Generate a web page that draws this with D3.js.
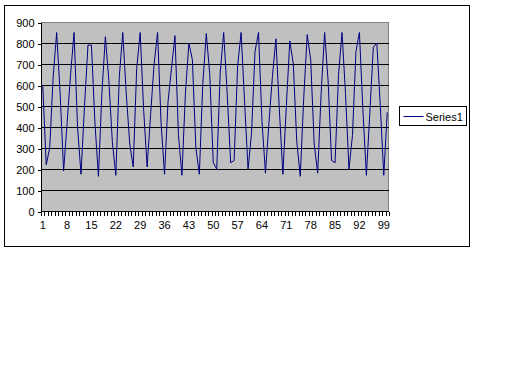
<!DOCTYPE html>
<html>
<head>
<meta charset="utf-8">
<script src="https://cdn.jsdelivr.net/npm/d3@7"></script>
<style>
  body { margin: 0; background: #fff; }
  svg { display: block; font-family: "Liberation Sans", Arial, sans-serif; }
  .axis text { font-size: 11px; fill: #000; }
  .axis line, .axis path { stroke: #000; shape-rendering: crispEdges; }
</style>
</head>
<body>
<svg id="chart"></svg>
<script>
// values, one per category
const series1 = [
  600, 220, 300, 640, 850, 560, 190, 420, 650, 850,
  400, 175, 500, 790, 790, 420, 165, 560, 830, 620,
  330, 170, 640, 850, 560, 320, 210, 680, 850, 480,
  210, 460, 700, 850, 420, 175, 520, 680, 835, 360,
  170, 560, 800, 720, 300, 175, 610, 845, 650, 230,
  200, 660, 850, 560, 230, 240, 690, 850, 520, 200,
  370, 760, 850, 430, 180, 420, 640, 820, 480, 175,
  500, 810, 700, 330, 165, 540, 840, 720, 320, 180,
  560, 850, 620, 240, 230, 650, 850, 560, 200, 360,
  760, 850, 480, 170, 470, 780, 800, 500, 170, 470
];
const categories = series1.map((d, i) => i + 1);
const xTickLabels = [1, 8, 15, 22, 29, 36, 43, 50, 57, 64, 71, 78, 85, 92, 99];
const yTicks = [0, 100, 200, 300, 400, 500, 600, 700, 800, 900];
const seriesName = 'Series1';

const width = 530, height = 384;
const plot = {left: 41, top: 22, right: 389, bottom: 211};

const svg = d3.select('#chart')
    .attr('width', width)
    .attr('height', height);

// outer chart frame
svg.append('rect')
    .attr('x', 4.5).attr('y', 5.5)
    .attr('width', 465).attr('height', 241)
    .attr('fill', '#fff')
    .attr('stroke', '#000');

const xScale = d3.scaleBand()
    .domain(categories)
    .range([plot.left, plot.right])
    .paddingInner(0).paddingOuter(0);

const yScale = d3.scaleLinear()
    .domain([0, 900])
    .range([plot.bottom, plot.top]);

// plot area
svg.append('rect')
    .attr('x', plot.left).attr('y', plot.top)
    .attr('width', plot.right - plot.left)
    .attr('height', plot.bottom - plot.top)
    .attr('fill', '#c0c0c0');

svg.append('path')
    .attr('d', `M${plot.left},${plot.top + 0.5}H${plot.right - 0.5}V${plot.bottom}`)
    .attr('fill', 'none')
    .attr('stroke', '#808080')
    .attr('shape-rendering', 'crispEdges');

// gridlines
svg.append('g')
    .selectAll('line')
    .data(yTicks.filter(d => d > 0 && d < 900))
    .join('line')
    .attr('x1', plot.left).attr('x2', plot.right)
    .attr('y1', d => Math.round(yScale(d)) + 0.5)
    .attr('y2', d => Math.round(yScale(d)) + 0.5)
    .attr('stroke', '#000')
    .attr('shape-rendering', 'crispEdges');

// y axis
const yAxis = d3.axisLeft(yScale)
    .tickValues(yTicks)
    .tickSize(4)
    .tickPadding(3);

svg.append('g')
    .attr('class', 'axis')
    .attr('transform', `translate(${plot.left + 0.5},0.5)`)
    .call(yAxis)
    .call(g => g.select('.domain').attr('d', `M0,${plot.top}V${plot.bottom}`));

// x axis: ticks between categories, labels every 7th category
const xAxisG = svg.append('g')
    .attr('class', 'axis')
    .attr('transform', `translate(0,${plot.bottom + 0.5})`);

xAxisG.append('line')
    .attr('x1', plot.left).attr('x2', plot.right)
    .attr('stroke', '#000');

xAxisG.selectAll('.tick-mark')
    .data(categories.concat([categories.length + 1]))
    .join('line')
    .attr('class', 'tick-mark')
    .attr('x1', d => Math.round(d <= categories.length ? xScale(d) : plot.right) + 0.5)
    .attr('x2', d => Math.round(d <= categories.length ? xScale(d) : plot.right) + 0.5)
    .attr('y1', 0).attr('y2', 4)
    .attr('stroke', '#000');

xAxisG.selectAll('.tick-label')
    .data(xTickLabels)
    .join('text')
    .attr('class', 'tick-label')
    .attr('x', d => xScale(d) + xScale.bandwidth() / 2)
    .attr('y', 17)
    .attr('text-anchor', 'middle')
    .text(d => d);

// series line
const line = d3.line()
    .x((d, i) => xScale(categories[i]) + xScale.bandwidth() / 2)
    .y(d => yScale(d));

svg.append('path')
    .datum(series1)
    .attr('d', line)
    .attr('fill', 'none')
    .attr('stroke', '#000080')
    .attr('stroke-width', 1);

// legend
const legend = svg.append('g')
    .attr('transform', 'translate(399.5,106.5)');

legend.append('rect')
    .attr('width', 67).attr('height', 19)
    .attr('fill', '#fff')
    .attr('stroke', '#000');

legend.append('line')
    .attr('x1', 4).attr('x2', 24)
    .attr('y1', 10).attr('y2', 10)
    .attr('stroke', '#000080');

legend.append('text')
    .attr('x', 26).attr('y', 14)
    .style('font-size', '11px')
    .text(seriesName);
</script>
</body>
</html>
